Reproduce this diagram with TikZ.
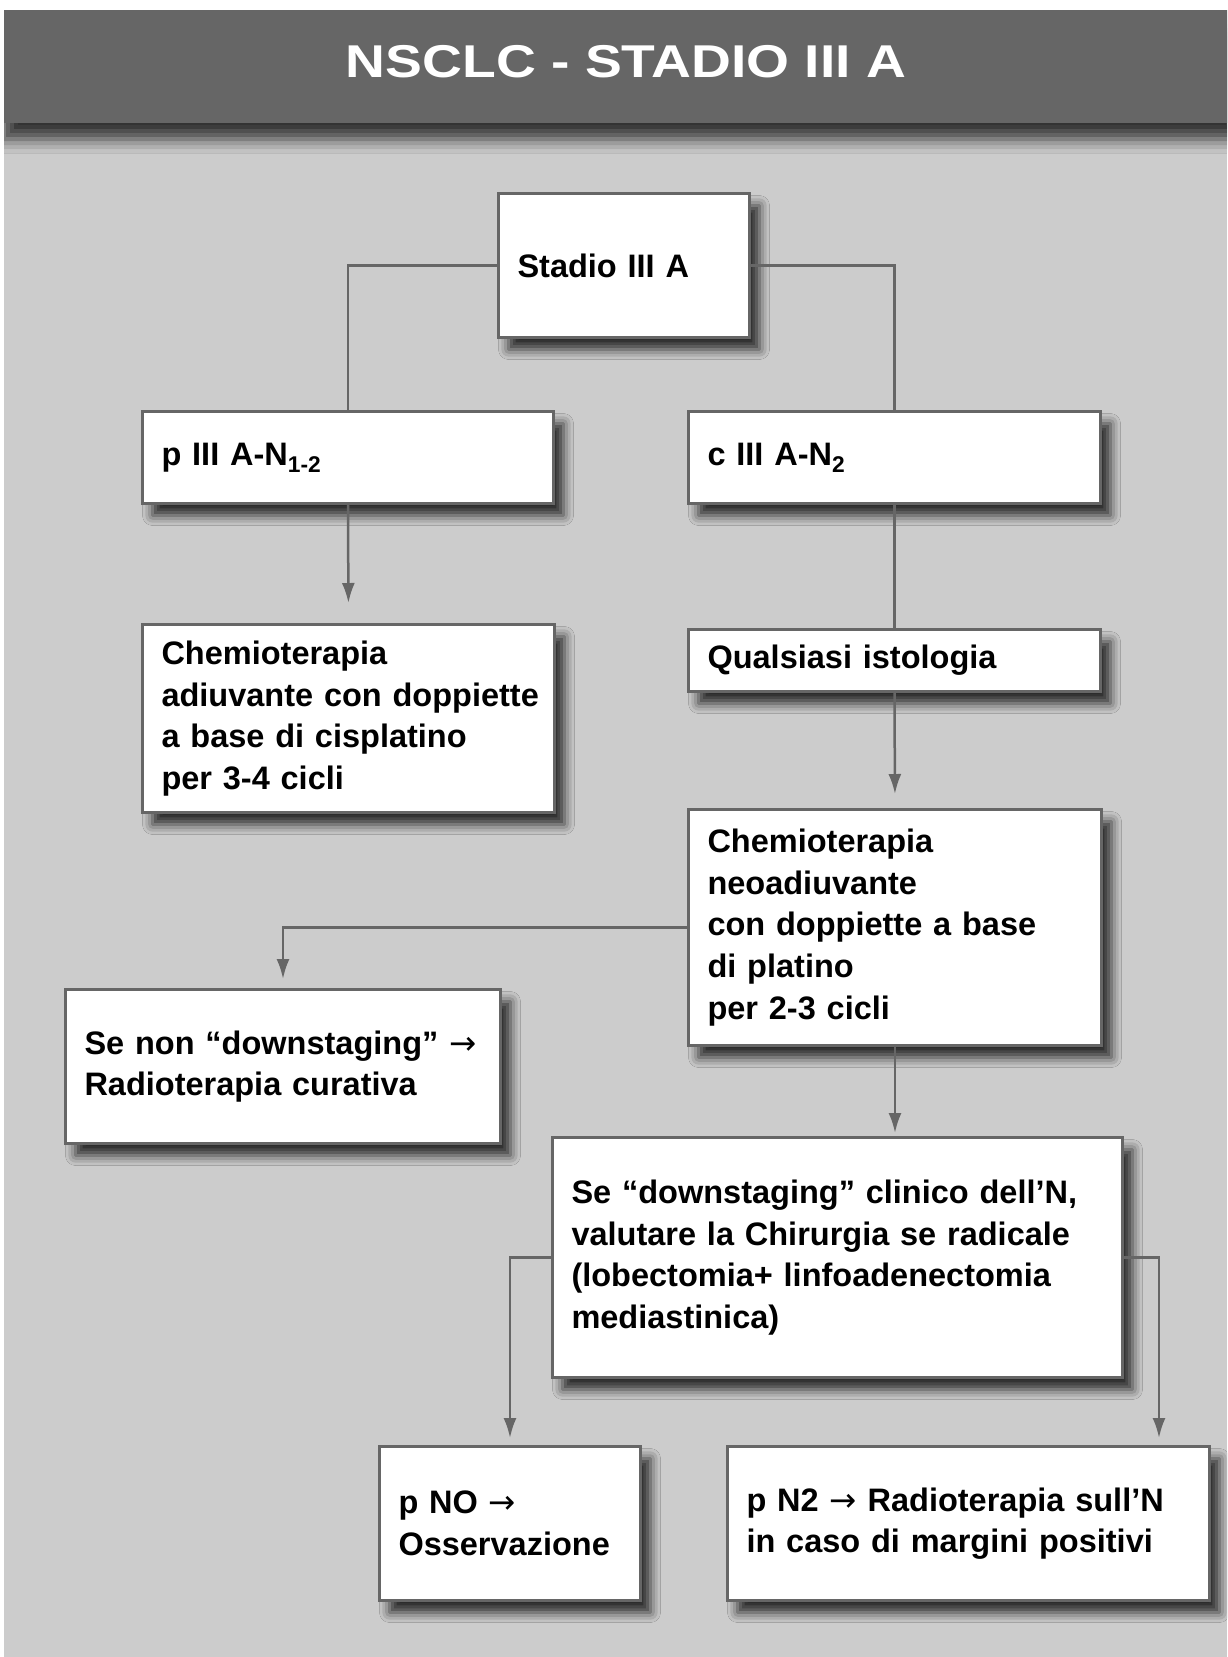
\documentclass[tikz,border=0pt]{standalone}
\usepackage{fontspec}
\setmainfont{Liberation Sans}
\newfontfamily\arrowfont{DejaVu Sans}
\usetikzlibrary{arrows.meta,shadows.blur,calc}

\definecolor{pagegray}{HTML}{CCCCCC}
\definecolor{bandgray}{HTML}{666666}
\definecolor{linegray}{HTML}{666666}

% text arrow drawn from DejaVu Sans, which has a full-size glyph
\newcommand{\toarrow}{{\arrowfont\mdseries →}}

\tikzset{
  box/.style={draw=linegray, line width=3pt, fill=white, anchor=north west,
    inner xsep=19pt, inner ysep=0pt, align=left, text=black,
    font=\fontsize{32.5}{41.7}\selectfont\bfseries,
    blur shadow={shadow xshift=10pt, shadow yshift=-12pt,
      shadow blur radius=10pt, shadow opacity=80}},
  link/.style={draw=linegray, line width=2.5pt},
  arr/.style={link, -{Latex[length=20pt,width=13pt]}},
}

\begin{document}
\begin{tikzpicture}[x=1pt, y=-1pt]
  \useasboundingbox (0,0) rectangle (1227,1657);
  \fill[white] (0,0) rectangle (1227,1657);
  \fill[pagegray] (4,10) rectangle (1227,1657);

  % title band with its shadow
  \begin{scope}
    \clip (4,10) rectangle (1227,1657);
    \fill[bandgray, blur shadow={shadow xshift=0pt, shadow yshift=-16pt,
      shadow blur radius=14pt, shadow opacity=75}] (4,10) rectangle (1240,123);
  \end{scope}
  \node[text=white, font=\fontsize{46}{50}\selectfont\bfseries] (title) at (626,62)
    {\scalebox{1.2}[1]{NSCLC - STADIO III A}};

  % boxes
  \node[box, text width=213pt, minimum height=144pt] (stadio) at (497,192) {Stadio III A};
  \node[box, text width=373pt, minimum height=92pt] (pn) at (141,410) {p III A-N\textsubscript{1-2}};
  \node[box, text width=374pt, minimum height=92pt] (cn) at (687,410) {c III A-N\textsubscript{2}};
  \node[box, text width=374pt, minimum height=188pt] (chad) at (141,623)
    {Chemioterapia\\ \mbox{adiuvante con doppiette}\\ a base di cisplatino\\ per 3-4 cicli};
  \node[box, text width=374pt, minimum height=62pt] (qual) at (687,628) {Qualsiasi istologia};
  \node[box, text width=375pt, minimum height=236pt] (neo) at (687,808)
    {Chemioterapia\\ neoadiuvante\\ con doppiette a base\\ di platino\\ per 2-3 cicli};
  \node[box, text width=397pt, minimum height=154pt] (senon) at (64,988)
    {\mbox{Se non “downstaging” \toarrow}\\ Radioterapia curativa};
  \node[box, text width=532pt, minimum height=240pt] (dn) at (551,1136)
    {\mbox{Se “downstaging” clinico dell’N,}\\ \mbox{valutare la Chirurgia se radicale}\\
     (lobectomia+ linfoadenectomia\\ mediastinica)};
  \node[box, text width=223pt, minimum height=154pt] (pno) at (378,1445)
    {p NO \toarrow\\ Osservazione};
  \node[box, text width=444pt, minimum height=154pt] (pn2) at (726,1445)
    {\mbox{p N2 \toarrow\ Radioterapia sull’N}\\ in caso di margini positivi};

  % connectors
  \coordinate (dnr) at ($(dn.east)+(35,0)$);
  \draw[link] (stadio.west) -| (pn.north);
  \draw[link] (stadio.east) -| (cn.north);
  \draw[arr, shorten >=20pt] (pn.south) -- (chad.north);
  \draw[link] (cn.south) -- (qual.north);
  \draw[arr, shorten >=14pt] (qual.south) -- (neo.north);
  \draw[arr, shorten >=9pt] (neo.west) -| (senon.north);
  \draw[arr, shorten >=3pt] (neo.south) -- (neo.south |- dn.north);
  \draw[arr, shorten >=7pt] (dn.west) -| (pno.north);
  \draw[arr, shorten >=7pt] (dn.east) -- (dnr) -- (dnr |- pn2.north);
\end{tikzpicture}
\end{document}
